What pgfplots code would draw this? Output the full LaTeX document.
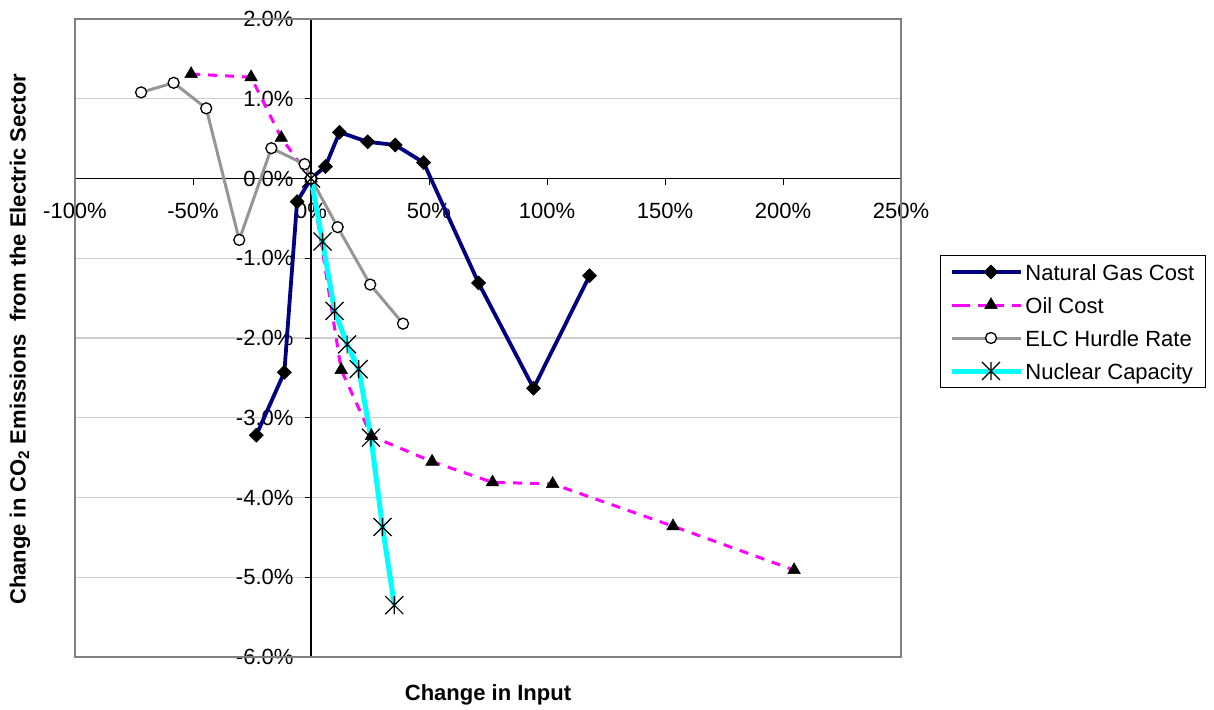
\documentclass[border=0pt]{standalone}
\usepackage{pgfplots}
\pgfplotsset{compat=1.18}
\usepackage{fontspec}
\setmainfont{Liberation Sans}
\definecolor{navyc}{RGB}{0,0,128}
\definecolor{magc}{RGB}{255,0,255}
\definecolor{elcgray}{RGB}{150,150,150}
\definecolor{cyanc}{RGB}{0,255,255}
\definecolor{gridc}{RGB}{205,205,205}
\definecolor{boxc}{RGB}{128,128,128}
\pgfdeclareplotmark{xstar}{%
  \pgfpathmoveto{\pgfqpoint{-\pgfplotmarksize}{-\pgfplotmarksize}}%
  \pgfpathlineto{\pgfqpoint{\pgfplotmarksize}{\pgfplotmarksize}}%
  \pgfpathmoveto{\pgfqpoint{-\pgfplotmarksize}{\pgfplotmarksize}}%
  \pgfpathlineto{\pgfqpoint{\pgfplotmarksize}{-\pgfplotmarksize}}%
  \pgfpathmoveto{\pgfqpoint{0pt}{-\pgfplotmarksize}}%
  \pgfpathlineto{\pgfqpoint{0pt}{\pgfplotmarksize}}%
  \pgfusepathqstroke}
\begin{document}
\fontsize{22}{26}\selectfont
\begin{tikzpicture}
\path[use as bounding box] (0,0) rectangle (1214pt,709pt);
\begin{axis}[
  at={(75pt,52pt)}, anchor=south west,
  scale only axis, width=826pt, height=638pt,
  xmin=-100, xmax=250, ymin=-6, ymax=2,
  axis x line=middle, axis y line=middle,
  axis line style={-, black, line width=1.2pt},
  hide obscured x ticks=false, hide obscured y ticks=false,
  xtick={-100,-50,0,50,100,150,200,250},
  xticklabels={-100\%,-50\%,0\%,50\%,100\%,150\%,200\%,250\%},
  ytick={-6,-5,-4,-3,-2,-1,0,1,2},
  yticklabels={-6.0\%,-5.0\%,-4.0\%,-3.0\%,-2.0\%,-1.0\%,0.0\%,1.0\%,2.0\%},
  tick align=outside, major tick length=6pt,
  tick style={black, line width=1pt},
  xticklabel style={anchor=north, yshift=-11pt, font=\fontsize{22}{26}\selectfont},
  yticklabel style={anchor=east, xshift=-4pt, font=\fontsize{22}{26}\selectfont},
  ymajorgrids, grid style={gridc, line width=1.2pt},
  xlabel={\bfseries Change in Input},
  xlabel style={at={(axis description cs:0.5,-0.0596)}, anchor=center, font=\fontsize{22}{26}\selectfont},
  ylabel={\bfseries Change in CO\textsubscript{2} Emissions\ \ from the Electric Sector},
  ylabel style={at={(axis description cs:-0.0666,0.498)}, anchor=center, rotate=90, font=\fontsize{22}{26}\selectfont},
  legend cell align=left,
  legend style={at={(1.0472,0.6301)}, anchor=north west, draw=black, line width=1pt,
    font=\fontsize{22}{26}\selectfont, inner xsep=9pt, inner ysep=3.75pt, row sep=7.5pt,
    column sep=0pt,
    nodes={inner sep=2pt, text height=19pt, text depth=2.5pt}},
  legend image code/.code={%
    \path (0pt,0pt) -- (9pt,0pt);
    \draw[mark repeat=2,mark phase=2] plot coordinates {(9pt,0pt) (39pt,0pt) (69pt,0pt)};},
  clip=false,
]
\draw[boxc, line width=1.5pt] (rel axis cs:0,0) rectangle (rel axis cs:1,1);
\addplot[navyc, line width=3.8pt, mark=square*, mark size=5pt,
  mark options={rotate=45, draw=black, fill=black, line width=0.5pt}]
  coordinates {(-23.2,-3.22) (-11.3,-2.43) (-5.9,-0.29) (0,0) (6.1,0.15) (12.1,0.58)
   (24,0.46) (35.7,0.42) (47.7,0.20) (71,-1.31) (94.3,-2.63) (118,-1.22)};
\addlegendentry{Natural Gas Cost}
\addplot[magc, line width=3pt, dash pattern=on 9pt off 8pt, mark=triangle*, mark size=7.3pt,
  mark options={solid, draw=black, fill=black, line width=0.5pt}]
  coordinates {(-50.8,1.31) (-25.4,1.27) (-12.6,0.51) (0,0) (12.8,-2.40) (25.6,-3.23)
   (51.3,-3.55) (76.9,-3.81) (102.4,-3.83) (153.4,-4.36) (204.7,-4.91)};
\addlegendentry{Oil Cost}
\addplot[elcgray, line width=3pt, mark=*, mark size=5.5pt,
  mark options={draw=black, fill=white, line width=1.3pt}]
  coordinates {(-72,1.08) (-58.2,1.20) (-44.4,0.88) (-30.4,-0.77) (-16.8,0.38) (-2.7,0.18)
   (0,0) (11.3,-0.61) (25.1,-1.33) (39,-1.82)};
\addlegendentry{ELC Hurdle Rate}
\addplot[cyanc, line width=5pt, mark=xstar, mark size=9pt,
  mark options={draw=black, line width=1.2pt}]
  coordinates {(0,0) (4.9,-0.79) (10,-1.66) (15.3,-2.08) (20.2,-2.39) (25.4,-3.25)
   (30.3,-4.37) (35.3,-5.35)};
\addlegendentry{Nuclear Capacity}
\end{axis}
\end{tikzpicture}
\end{document}
